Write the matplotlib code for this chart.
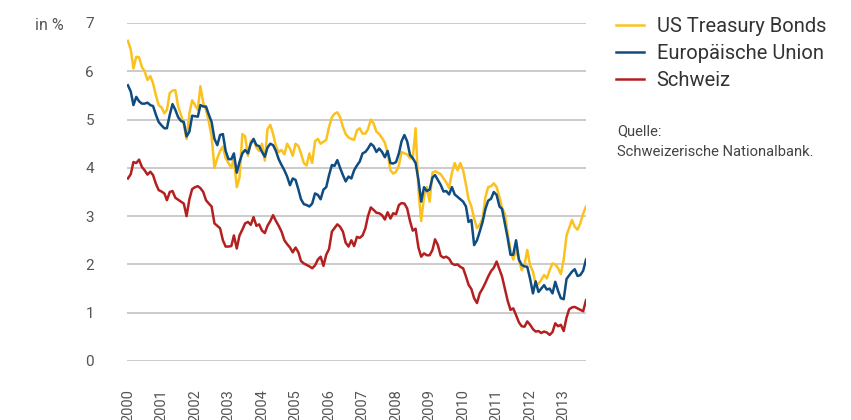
import matplotlib
matplotlib.use("Agg")
import matplotlib.pyplot as plt
import pandas as pd

plt.rcParams['font.family'] = ['Roboto', 'DejaVu Sans']

years = list(range(2000, 2014))
dates = pd.date_range('2000-01-01', periods=165, freq='MS')

us_treasury = [
    6.63, 6.45, 6.06, 6.30, 6.29, 6.09, 6.00, 5.82, 5.90, 5.75, 5.50, 5.30,
    5.25, 5.13, 5.20, 5.55, 5.60, 5.61, 5.27, 5.10, 4.90, 4.60, 5.13, 5.40,
    5.30, 5.20, 5.69, 5.35, 5.20, 4.95, 4.65, 4.00, 4.20, 4.35, 4.44, 4.20,
    4.10, 4.00, 4.20, 3.60, 3.80, 4.70, 4.65, 4.25, 4.55, 4.58, 4.42, 4.35,
    4.50, 4.15, 4.80, 4.89, 4.70, 4.45, 4.33, 4.37, 4.28, 4.50, 4.40, 4.25,
    4.50, 4.45, 4.30, 4.10, 4.05, 4.30, 4.10, 4.55, 4.60, 4.50, 4.54, 4.58,
    4.85, 5.05, 5.12, 5.15, 5.05, 4.85, 4.70, 4.63, 4.60, 4.58, 4.78, 4.82,
    4.71, 4.71, 4.80, 5.00, 4.92, 4.75, 4.70, 4.62, 4.52, 4.30, 3.95, 3.88,
    3.92, 4.05, 4.33, 4.30, 4.28, 4.20, 4.20, 4.82, 3.54, 2.90, 3.40, 3.60,
    3.30, 3.90, 3.93, 3.90, 3.87, 3.78, 3.70, 3.58, 3.90, 4.10, 3.95, 4.10,
    3.95, 3.65, 3.35, 3.20, 2.95, 2.75, 2.82, 2.95, 3.40, 3.60, 3.62, 3.68,
    3.60, 3.40, 3.17, 3.05, 2.65, 2.30, 2.10, 2.30, 2.10, 1.88, 2.00, 2.30,
    1.98, 1.85, 1.60, 1.60, 1.68, 1.78, 1.71, 1.88, 2.02, 2.00, 1.92, 1.80,
    2.10, 2.60, 2.75, 2.92, 2.78, 2.72, 2.85, 3.05, 3.20,
]

eu = [
    5.71, 5.58, 5.30, 5.47, 5.38, 5.33, 5.33, 5.35, 5.30, 5.28, 5.10, 4.95,
    4.88, 4.82, 4.82, 5.10, 5.32, 5.20, 5.05, 4.97, 4.95, 4.65, 4.75, 5.08,
    5.07, 5.06, 5.30, 5.27, 5.27, 5.10, 4.95, 4.60, 4.47, 4.68, 4.70, 4.35,
    4.18, 4.18, 4.30, 3.90, 4.12, 4.30, 4.37, 4.30, 4.50, 4.60, 4.47, 4.45,
    4.33, 4.23, 4.42, 4.50, 4.47, 4.35, 4.18, 4.06, 3.95, 3.82, 3.64, 3.78,
    3.75, 3.55, 3.35, 3.25, 3.23, 3.20, 3.26, 3.47, 3.44, 3.35, 3.55, 3.60,
    3.85, 4.06, 4.04, 4.16, 4.00, 3.85, 3.72, 3.82, 3.78, 3.95, 4.05, 4.13,
    4.30, 4.33, 4.40, 4.50, 4.45, 4.33, 4.40, 4.33, 4.22, 4.35, 4.10, 4.09,
    4.12, 4.30, 4.55, 4.68, 4.55, 4.27, 4.20, 4.10, 3.75, 3.30, 3.60, 3.52,
    3.55, 3.80, 3.85, 3.75, 3.65, 3.51, 3.52, 3.45, 3.60, 3.45, 3.40, 3.35,
    3.30, 3.20, 2.88, 2.92, 2.40, 2.50, 2.68, 2.88, 3.15, 3.32, 3.36, 3.50,
    3.44, 3.20, 3.15, 2.85, 2.55, 2.20, 2.20, 2.50, 2.10, 1.99, 1.96, 1.95,
    1.70, 1.40, 1.65, 1.43, 1.50, 1.57, 1.48, 1.50, 1.40, 1.64, 1.45, 1.30,
    1.28, 1.70, 1.77, 1.85, 1.90, 1.76, 1.78, 1.87, 2.10,
]

schweiz = [
    3.78, 3.87, 4.12, 4.10, 4.17, 4.02, 3.95, 3.86, 3.92, 3.85, 3.67, 3.54,
    3.51, 3.47, 3.33, 3.50, 3.52, 3.38, 3.34, 3.30, 3.26, 3.00, 3.35, 3.56,
    3.60, 3.62, 3.58, 3.50, 3.33, 3.26, 3.20, 2.85, 2.80, 2.75, 2.50, 2.37,
    2.37, 2.38, 2.60, 2.33, 2.60, 2.72, 2.85, 2.88, 2.82, 2.98, 2.80, 2.83,
    2.70, 2.65, 2.80, 2.90, 3.02, 2.90, 2.80, 2.68, 2.50, 2.42, 2.35, 2.25,
    2.35, 2.25, 2.07, 2.02, 1.99, 1.96, 1.92, 1.98, 2.10, 2.16, 1.97, 2.20,
    2.32, 2.68, 2.75, 2.83, 2.78, 2.68, 2.45, 2.37, 2.50, 2.38, 2.57, 2.55,
    2.60, 2.75, 3.00, 3.18, 3.13, 3.07, 3.06, 3.02, 2.93, 3.08, 2.95, 3.06,
    3.04, 3.23, 3.27, 3.26, 3.16, 2.90, 2.70, 2.74, 2.35, 2.16, 2.23, 2.19,
    2.19, 2.30, 2.52, 2.40, 2.18, 2.14, 2.16, 2.12, 2.02, 1.99, 2.00, 1.95,
    1.92, 1.75, 1.58, 1.49, 1.30, 1.20, 1.40, 1.50, 1.62, 1.75, 1.86, 1.93,
    2.06, 1.90, 1.75, 1.50, 1.25, 1.06, 1.09, 0.95, 0.80, 0.72, 0.71, 0.82,
    0.75, 0.66, 0.61, 0.62, 0.58, 0.61, 0.59, 0.54, 0.60, 0.78, 0.72, 0.75,
    0.62, 0.90, 1.07, 1.11, 1.12, 1.09, 1.06, 1.03, 1.26,
]

series_names = ['US Treasury Bonds', 'Europäische Union', 'Schweiz']
series_colors = ['#FBC21F', '#0F4C81', '#B3201F']
y_ticks = [0, 1, 2, 3, 4, 5, 6, 7]

fig = plt.figure(figsize=(8.51, 4.20), dpi=100)
ax = fig.add_axes([127 / 851, 1 - 361 / 420, (586 - 127) / 851, (361 - 23) / 420])

for vals, name, col in zip([us_treasury, eu, schweiz], series_names, series_colors):
    ax.plot(dates, vals, color=col, lw=1.8, label=name, solid_joinstyle='round', zorder=3)

ax.set_ylim(0, 7)
ax.set_xlim(dates[0] - pd.Timedelta(days=10), dates[-1])
ax.set_yticks(y_ticks)
ax.yaxis.grid(True, color='#bdbdbd', lw=1.1)
ax.set_axisbelow(True)
for s in ax.spines.values():
    s.set_visible(False)

ax.set_xticks([pd.Timestamp(f'{y}-01-01') for y in years])
ax.set_xticklabels([str(y) for y in years], rotation=90, va='top', ha='center')
ax.tick_params(axis='x', length=0, pad=20.0, labelsize=10.5, labelcolor='#555555')
ax.tick_params(axis='y', length=0, pad=23.8, labelsize=11, labelcolor='#555555')
for lab in ax.get_yticklabels():
    lab.set_horizontalalignment('right')

fig.text(35 / 851, 1 - 25 / 420, 'in %', fontsize=11.5, color='#555555', va='center', ha='left')

fig.legend(loc='upper left', bbox_to_anchor=(616 / 851, 1 - 17 / 420), frameon=False,
           fontsize=14.5, handlelength=1.4, handletextpad=0.62, labelspacing=0.40,
           labelcolor='#333333', borderaxespad=0, borderpad=0)

fig.text(617 / 851, 1 - 131 / 420, 'Quelle:', fontsize=10.6,
         color='#444444', va='center', ha='left')
fig.text(617 / 851, 1 - 152 / 420, 'Schweizerische Nationalbank.', fontsize=10.6,
         color='#444444', va='center', ha='left')

fig.savefig('out.png', dpi=100)
